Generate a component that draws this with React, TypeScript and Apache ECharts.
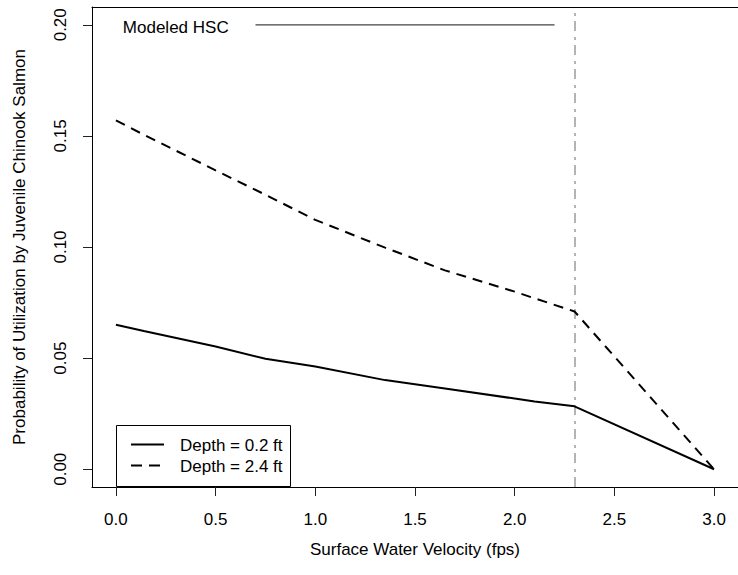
import React, { useEffect, useRef } from 'react';
import * as echarts from 'echarts';

// Surface water velocity (fps) at which the modeled curves are sampled
const velocity = [0, 0.14, 0.5, 0.75, 1.0, 1.35, 1.65, 2.0, 2.1, 2.3, 3.0];
// Probability of utilization, depth = 0.2 ft (solid)
const depth02 = [0.065, 0.0622, 0.0552, 0.0497, 0.0462, 0.0401, 0.0363, 0.0318, 0.0305, 0.0283, 0];
// Probability of utilization, depth = 2.4 ft (dashed)
const depth24 = [0.157, 0.1505, 0.1345, 0.1235, 0.1122, 0.0997, 0.0895, 0.0799, 0.0769, 0.071, 0];

const xTicks = [0, 0.5, 1, 1.5, 2, 2.5, 3];
const yTicks = [0, 0.05, 0.1, 0.15, 0.2];

const hscLineX = [0.7, 2.2];
const hscY = 0.2;
const hscLabelX = 0.3;
const hscLabel = 'Modeled HSC';
const modelLimit = 2.3;

const seriesNames = ['Depth = 0.2 ft', 'Depth = 2.4 ft'];
const xTitle = 'Surface Water Velocity (fps)';
const yTitle = 'Probability of Utilization by Juvenile Chinook Salmon';

const FONT = '"Liberation Sans", Arial, Helvetica, sans-serif';
const DASH = [10, 7];

export default function App() {
  const ref = useRef<HTMLDivElement>(null);

  useEffect(() => {
    const chart = echarts.init(ref.current as HTMLDivElement, null, { renderer: 'svg' });

    const zip = (xs: number[], ys: number[]) => xs.map((x, i) => [x, ys[i]]);

    chart.setOption({
      animation: false,
      backgroundColor: '#ffffff',
      textStyle: { fontFamily: FONT },
      grid: { left: 92, right: -4, top: 7, bottom: 88, containLabel: false },
      xAxis: [
        {
          type: 'value',
          min: -0.12,
          max: 3.12,
          position: 'bottom',
          splitLine: { show: false },
          axisLine: { show: true, onZero: false, lineStyle: { color: '#000', width: 1 } },
          axisTick: { show: true, customValues: xTicks, length: 9, lineStyle: { color: '#222', width: 1 } },
          axisLabel: {
            customValues: xTicks,
            formatter: (v: number) => v.toFixed(1),
            fontSize: 17,
            color: '#000',
            margin: 24,
            fontFamily: FONT,
          },
          name: xTitle,
          nameLocation: 'middle',
          nameGap: 54,
          nameTextStyle: { fontSize: 17, color: '#000', fontFamily: FONT },
        },
        {
          type: 'value',
          min: -0.12,
          max: 3.12,
          position: 'top',
          splitLine: { show: false },
          axisLine: { show: true, onZero: false, lineStyle: { color: '#000', width: 1 } },
          axisTick: { show: false },
          axisLabel: { show: false },
        },
      ],
      yAxis: [
        {
          type: 'value',
          min: -0.008,
          max: 0.208,
          position: 'left',
          splitLine: { show: false },
          axisLine: { show: true, onZero: false, lineStyle: { color: '#000', width: 1 } },
          axisTick: { show: true, customValues: yTicks, length: 9, lineStyle: { color: '#222', width: 1 } },
          axisLabel: {
            customValues: yTicks,
            formatter: (v: number) => v.toFixed(2),
            rotate: 90,
            fontSize: 17,
            color: '#000',
            margin: 23,
            fontFamily: FONT,
          },
          name: yTitle,
          nameLocation: 'middle',
          nameGap: 64,
          nameTextStyle: { fontSize: 17, color: '#000', fontFamily: FONT },
        },
        {
          type: 'value',
          min: -0.008,
          max: 0.208,
          position: 'right',
          splitLine: { show: false },
          axisLine: { show: true, onZero: false, lineStyle: { color: '#000', width: 1 } },
          axisTick: { show: false },
          axisLabel: { show: false },
        },
      ],
      series: [
        {
          name: seriesNames[0],
          type: 'line',
          data: zip(velocity, depth02),
          symbol: 'none',
          lineStyle: { color: '#000', width: 2, type: 'solid' },
          z: 3,
          markLine: {
            silent: true,
            symbol: 'none',
            label: { show: false },
            lineStyle: { color: '#b4b4b4', width: 2, type: [10, 5, 3, 6] },
            data: [{ xAxis: modelLimit }],
            z: 2,
          },
        },
        {
          name: seriesNames[1],
          type: 'line',
          data: zip(velocity, depth24),
          symbol: 'none',
          lineStyle: { color: '#000', width: 2, type: DASH },
          z: 3,
        },
        {
          name: 'hsc-line',
          type: 'line',
          data: zip(hscLineX, [hscY, hscY]),
          symbol: 'none',
          lineStyle: { color: '#444', width: 1.3 },
          z: 3,
        },
        {
          name: 'hsc-label',
          type: 'scatter',
          data: [[hscLabelX, hscY]],
          symbolSize: 0,
          itemStyle: { color: 'rgba(0,0,0,0)' },
          label: {
            show: true,
            position: 'inside',
            offset: [0, 3],
            formatter: hscLabel,
            fontSize: 17,
            color: '#000',
            opacity: 1,
            fontFamily: FONT,
          },
          silent: true,
          z: 4,
        },
      ],
      graphic: [
        {
          type: 'group',
          z: 100,
          children: [
            {
              type: 'rect',
              shape: { x: 116.5, y: 425.5, width: 174, height: 61 },
              style: { fill: '#fff', stroke: '#000', lineWidth: 1 },
            },
            {
              type: 'line',
              shape: { x1: 131, y1: 444.5, x2: 164, y2: 444.5 },
              style: { stroke: '#000', lineWidth: 2 },
            },
            {
              type: 'line',
              shape: { x1: 131, y1: 465.5, x2: 164, y2: 465.5 },
              style: { stroke: '#000', lineWidth: 2, lineDash: [11, 7] },
            },
            {
              type: 'text',
              x: 180,
              y: 445,
              style: {
                text: seriesNames[0],
                fontSize: 17,
                fontFamily: FONT,
                fill: '#000',
                verticalAlign: 'middle',
                align: 'left',
              },
            },
            {
              type: 'text',
              x: 180,
              y: 466.5,
              style: {
                text: seriesNames[1],
                fontSize: 17,
                fontFamily: FONT,
                fill: '#000',
                verticalAlign: 'middle',
                align: 'left',
              },
            },
          ],
        },
      ],
    });

    return () => {
      chart.dispose();
    };
  }, []);

  return (
    <div
      ref={ref}
      style={{ position: 'fixed', left: 0, top: 0, width: 738, height: 575, background: '#fff' }}
    />
  );
}
